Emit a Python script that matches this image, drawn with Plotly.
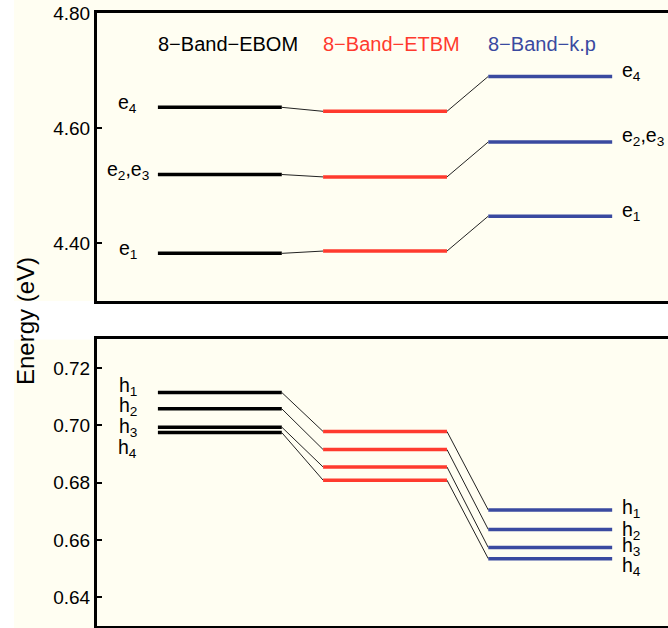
import plotly.graph_objects as go

# Energy levels (eV) for the three 8-band models
models = ["8\u2212Band\u2212EBOM", "8\u2212Band\u2212ETBM", "8\u2212Band\u2212k.p"]
model_colors = ["#000000", "#ff3a2e", "#3a4aa0"]

# electron states: e1, (e2,e3), e4
e_labels = ["e<sub>1</sub>", "e<sub>2</sub>,e<sub>3</sub>", "e<sub>4</sub>"]
e_ebom = [4.3827, 4.5196, 4.6362]
e_etbm = [4.3867, 4.5154, 4.6293]
e_kp = [4.4473, 4.5761, 4.6899]

# hole states: h1..h4
h_labels = ["h<sub>1</sub>", "h<sub>2</sub>", "h<sub>3</sub>", "h<sub>4</sub>"]
h_ebom = [0.7115, 0.7058, 0.6994, 0.6975]
h_etbm = [0.6979, 0.6916, 0.6855, 0.6809]
h_kp = [0.6705, 0.6637, 0.6574, 0.6535]

top_ticks = [4.40, 4.60, 4.80]
bottom_ticks = [0.64, 0.66, 0.68, 0.70, 0.72]

FONT = "Liberation Sans, Arial, Helvetica, sans-serif"
CREAM = "#fffef2"
W, H = 668, 628
ML, MR, MT, MB = 97, 0, 13, 2

centers = [1, 2, 3]
half = 0.375
xr = [0.2563, 3.713]

fig = go.Figure()


def add_panel(levels_per_model, xa, ya):
    # connectors between neighbouring models
    for m in range(len(levels_per_model) - 1):
        for a, b in zip(levels_per_model[m], levels_per_model[m + 1]):
            fig.add_trace(go.Scatter(
                x=[centers[m] + half, centers[m + 1] - half], y=[a, b],
                mode="lines", line=dict(color="#222222", width=1),
                xaxis=xa, yaxis=ya, hoverinfo="skip", showlegend=False))
    # level bars
    for m, levels in enumerate(levels_per_model):
        for v in levels:
            fig.add_trace(go.Scatter(
                x=[centers[m] - half, centers[m] + half], y=[v, v],
                mode="lines", line=dict(color=model_colors[m], width=3.5),
                xaxis=xa, yaxis=ya, hoverinfo="skip", showlegend=False))


add_panel([e_ebom, e_etbm, e_kp], "x", "y")
add_panel([h_ebom, h_etbm, h_kp], "x2", "y2")

axis_common = dict(showline=True, linecolor="black", linewidth=3,
                   showgrid=False, zeroline=False)

fig.update_layout(
    width=W, height=H,
    margin=dict(l=ML, r=MR, t=MT, b=MB),
    paper_bgcolor=CREAM, plot_bgcolor=CREAM,
    font=dict(family=FONT, size=19, color="black"),
    xaxis=dict(domain=[0, 1], anchor="y", range=xr, mirror=True,
               showticklabels=False, ticks="", **axis_common),
    yaxis=dict(domain=[0.5302, 1], anchor="x", range=[4.30, 4.80],
               tickvals=top_ticks, tickformat=".2f", ticks="inside",
               ticklen=5, tickwidth=1.5, tickcolor="black", **axis_common),
    xaxis2=dict(domain=[0, 1], anchor="y2", range=xr, mirror=True,
                showticklabels=False, ticks="", **axis_common),
    yaxis2=dict(domain=[0, 0.4674], anchor="x2", range=[0.63, 0.73],
                tickvals=bottom_ticks, tickformat=".2f", ticks="inside",
                ticklen=5, tickwidth=1.5, tickcolor="black", **axis_common),
)

# white strips: left margin and the gap between the panels
fig.add_shape(type="rect", xref="paper", yref="paper", layer="below",
              x0=-ML / (W - ML) - 0.01, x1=(14 - ML) / (W - ML), y0=-0.01, y1=1.03,
              fillcolor="white", line=dict(width=0))
fig.add_shape(type="rect", xref="paper", yref="paper", layer="below",
              x0=(14 - ML) / (W - ML), x1=1.01, y0=0.4674, y1=0.5302,
              fillcolor="white", line=dict(width=0))

# model names
for m, name in enumerate(models):
    fig.add_annotation(x=centers[m] - half, y=4.747, xref="x", yref="y",
                       text=name, showarrow=False, xanchor="left", xshift=-2,
                       yanchor="middle", font=dict(size=20, color=model_colors[m]))

# electron labels
for lab, v in zip(e_labels, e_ebom):
    fig.add_annotation(x=centers[0] - half, y=v, xref="x", yref="y", text=lab,
                       showarrow=False, xanchor="center", yanchor="middle",
                       xshift=-30, yshift=4, font=dict(size=19.5))
for lab, v in zip(e_labels, e_kp):
    fig.add_annotation(x=centers[2] + half, y=v, xref="x", yref="y", text=lab,
                       showarrow=False, xanchor="left", yanchor="middle",
                       xshift=8, yshift=5, font=dict(size=19.5))

# hole labels (offsets keep the closely spaced labels apart)
left_shift = [6, 2, 0, -16]
right_shift = [1, -1, 1, -8]
for lab, v, s in zip(h_labels, h_ebom, left_shift):
    fig.add_annotation(x=centers[0] - half, y=v, xref="x2", yref="y2", text=lab,
                       showarrow=False, xanchor="center", yanchor="middle",
                       xshift=-30, yshift=s, font=dict(size=19.5))
for lab, v, s in zip(h_labels, h_kp, right_shift):
    fig.add_annotation(x=centers[2] + half, y=v, xref="x2", yref="y2", text=lab,
                       showarrow=False, xanchor="left", yanchor="middle",
                       xshift=8, yshift=s, font=dict(size=19.5))

# shared y-axis title
fig.add_annotation(x=(25 - ML) / (W - ML), y=(H - MB - 321) / (H - MT - MB),
                   xref="paper", yref="paper", text="Energy (eV)", textangle=-90,
                   showarrow=False, xanchor="center", yanchor="middle",
                   font=dict(size=24))

fig.write_html("out.html")
